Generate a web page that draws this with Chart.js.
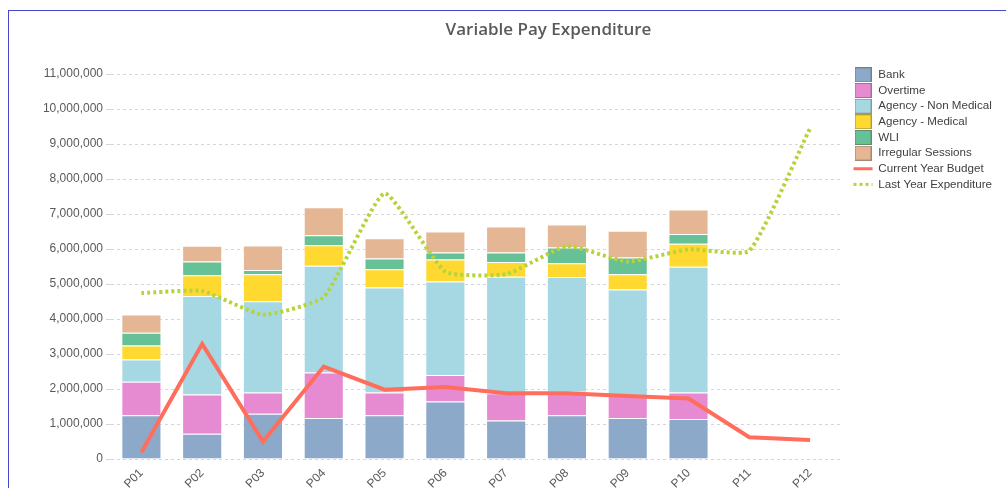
<!DOCTYPE html>
<html><head><meta charset="utf-8">
<script src="https://cdn.jsdelivr.net/npm/chart.js@4.4.1/dist/chart.umd.min.js"></script>
<style>
html,body{margin:0;padding:0;background:#fff;overflow:hidden;}
#wrap{position:relative;width:1006px;height:488px;overflow:hidden;}
#frame{position:absolute;left:8px;top:10px;width:1100px;height:600px;border-left:1px solid #4646C8;border-top:1px solid #4646C8;}
#title{position:absolute;top:17px;left:548.5px;transform:translateX(-50%);font-family:"Open Sans";font-weight:600;font-size:17px;color:#595959;white-space:nowrap;}
canvas{position:absolute;left:0;top:0;}
</style></head>
<body><div id="wrap"><div id="frame"></div><canvas id="c" width="1006" height="488"></canvas><div id="title">Variable Pay Expenditure</div></div>
<script>
const periods = ['P01','P02','P03','P04','P05','P06','P07','P08','P09','P10','P11','P12'];
const bank = [1250000, 720000, 1290000, 1170000, 1250000, 1640000, 1100000, 1250000, 1170000, 1140000, null, null];
const overtime = [960000, 1120000, 610000, 1300000, 650000, 760000, 780000, 670000, 660000, 760000, null, null];
const agencyNonMedical = [630000, 2820000, 2610000, 3050000, 3000000, 2670000, 3330000, 3280000, 3010000, 3590000, null, null];
const agencyMedical = [400000, 590000, 770000, 590000, 520000, 630000, 420000, 390000, 440000, 660000, null, null];
const wli = [370000, 390000, 120000, 280000, 310000, 200000, 270000, 450000, 480000, 280000, null, null];
const irregularSessions = [520000, 450000, 700000, 800000, 580000, 600000, 740000, 660000, 760000, 700000, null, null];
const currentYearBudget = [190000, 3290000, 500000, 2640000, 1980000, 2060000, 1880000, 1880000, 1800000, 1730000, 620000, 540000];
const lastYearExpenditure = [4740000, 4800000, 4120000, 4630000, 7590000, 5350000, 5280000, 6080000, 5640000, 5990000, 5950000, 9450000];
const yTicksMax = 11000000;
const yTickStep = 1000000;

const font = 'Liberation Sans';
function boxImg(color){
  const c=document.createElement('canvas'); c.width=17; c.height=15;
  const g=c.getContext('2d'); g.fillStyle=color; g.fillRect(0,0,17,15);
  g.strokeStyle='rgba(80,80,80,0.45)'; g.lineWidth=1; g.strokeRect(0.5,0.5,16,14);
  return c;
}
function barDs(label, data, color){
  return {label, data, backgroundColor: color, borderColor:'rgba(255,255,255,0.45)', borderWidth:1,
    stack:'bars', order:2, barPercentage:0.66, categoryPercentage:1};
}
const datasets = [
  barDs('Bank', bank, '#8CA9C9'),
  barDs('Overtime', overtime, '#E68BD2'),
  barDs('Agency - Non Medical', agencyNonMedical, '#A6D8E3'),
  barDs('Agency - Medical', agencyMedical, '#FFD92F'),
  barDs('WLI', wli, '#66C296'),
  barDs('Irregular Sessions', irregularSessions, '#E5B693'),
  {type:'line', label:'Current Year Budget', data:currentYearBudget, borderColor:'#FF6E5C', backgroundColor:'#FF6E5C',
   borderWidth:4, pointRadius:0, tension:0, stack:'budget', order:1, fill:false},
  {type:'line', label:'Last Year Expenditure', data:lastYearExpenditure, borderColor:'#B5D43B', backgroundColor:'#B5D43B',
   borderWidth:4, borderDash:[3,3], pointRadius:0, tension:0.15, stack:'ly', order:0, fill:false}
];

new Chart(document.getElementById('c'), {
  type:'bar',
  data:{labels:periods, datasets},
  options:{
    responsive:false, animation:false,
    layout:{padding:{top:65, right:4, left:0, bottom:0}},
    plugins:{
      tooltip:{enabled:false},
      title:{display:true, text:'', font:{size:1, lineHeight:1}, padding:{top:0,bottom:8}},
      legend:{position:'right', align:'start',
        labels:{usePointStyle:true, pointStyleWidth:19, padding:4.05, color:'#404040',
          font:{family:font, size:11.6},
          generateLabels:(chart)=>chart.data.datasets.map((ds,i)=>{
            const isLine = ds.type==='line';
            return {text:ds.label, fillStyle:ds.backgroundColor, strokeStyle:isLine?ds.borderColor:'rgba(0,0,0,0)',
              lineWidth:isLine?3:0, lineDash:ds.borderDash||[], lineCap:'butt',
              pointStyle:isLine?'line':boxImg(ds.backgroundColor), datasetIndex:i, hidden:false, fontColor:'#404040'};
          })
        }
      }
    },
    scales:{
      x:{stacked:true, grid:{display:false, drawTicks:false}, border:{display:false},
        ticks:{minRotation:45, maxRotation:45, autoSkip:false, color:'#595959', font:{family:font, size:12}, padding:7},
        afterFit(a){a.height=29;}},
      y:{stacked:true, min:0, max:yTicksMax,
        ticks:{stepSize:yTickStep, color:'#595959', font:{family:font, size:12}, padding:3,
          callback:v=>Number(v).toLocaleString('en-US')},
        grid:{color:'#d6d6d6', tickLength:5, lineWidth:1},
        border:{display:false, dash:[3,3]},
        afterFit(a){a.width=111;}},
      y2:{position:'right', display:true, grid:{display:false, drawTicks:false}, border:{display:false},
        ticks:{display:false}, afterFit(a){a.width=9;}}
    }
  }
});
</script>
</body></html>
